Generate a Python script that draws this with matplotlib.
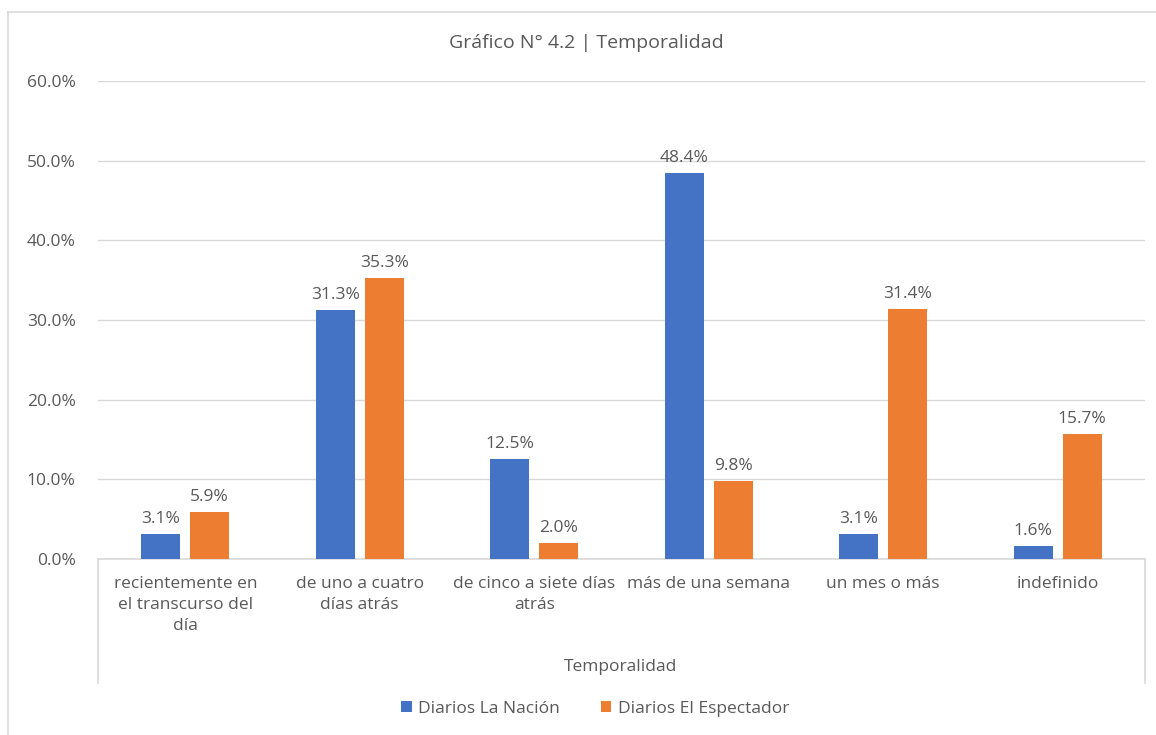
import matplotlib
matplotlib.use("Agg")
import matplotlib.pyplot as plt
from matplotlib.lines import Line2D
import numpy as np

# datos del gráfico
categorias = ["recientemente en\nel transcurso del\ndía",
              "de uno a cuatro\ndías atrás",
              "de cinco a siete días\natrás",
              "más de una semana",
              "un mes o más",
              "indefinido"]
la_nacion = [3.1, 31.3, 12.5, 48.4, 3.1, 1.6]
el_espectador = [5.9, 35.3, 2.0, 9.8, 31.4, 15.7]
series = ["Diarios La Nación", "Diarios El Espectador"]

azul = "#4472C4"
naranja = "#ED7D31"
gris_texto = "#595959"
gris_linea = "#D9D9D9"
tam = 12.5

plt.rcParams['font.family'] = ['Open Sans', 'DejaVu Sans']

W, H = 1156, 735
fig = plt.figure(figsize=(W / 100, H / 100), dpi=100)

# marco exterior (solo lados izquierdo y superior visibles)
fig.add_artist(Line2D([8 / W, 8 / W], [0, 1 - 12 / H], color=gris_linea, lw=1.2,
                      transform=fig.transFigure))
fig.add_artist(Line2D([8 / W, 1], [1 - 12 / H, 1 - 12 / H], color=gris_linea, lw=1.2,
                      transform=fig.transFigure))

x0, x1, y0, y1 = 98, 1145, 559, 81
ax = fig.add_axes([x0 / W, 1 - y0 / H, (x1 - x0) / W, (y0 - y1) / H])

x = np.arange(len(categorias))
ancho = 0.224
desp = 0.14
b1 = ax.bar(x - desp, la_nacion, ancho, color=azul, label=series[0], zorder=3)
b2 = ax.bar(x + desp, el_espectador, ancho, color=naranja, label=series[1], zorder=3)

for barras in (b1, b2):
    for b in barras:
        ax.annotate(f"{b.get_height():.1f}%", (b.get_x() + b.get_width() / 2, b.get_height()),
                    xytext=(0, 5), textcoords="offset points", ha="center", va="bottom",
                    fontsize=tam, color=gris_texto)

ax.set_xlim(-0.5, len(categorias) - 0.5)
ax.set_ylim(0, 60)
ax.set_yticks(np.arange(0, 61, 10))
ax.set_yticklabels([f"{v:.1f}%" for v in np.arange(0, 61, 10)])
ax.yaxis.grid(True, color=gris_linea, lw=1)
ax.set_axisbelow(True)
for s in ["top", "right", "left"]:
    ax.spines[s].set_visible(False)
ax.spines["bottom"].set_color(gris_linea)
ax.spines["bottom"].set_linewidth(1.2)
ax.tick_params(axis="y", length=0, pad=16, labelsize=tam, labelcolor=gris_texto)
ax.tick_params(axis="x", length=0, pad=12, labelsize=tam, labelcolor=gris_texto)
ax.set_xticks(x)
ax.set_xticklabels(categorias, linespacing=1.42)

# líneas laterales del eje de categorías
fondo = -(683 - 559) / (559 - 81)
for xa in (0, 1):
    ax.plot([xa, xa], [0, fondo], transform=ax.transAxes, color=gris_linea,
            lw=1.2, clip_on=False)

fig.text(621 / W, 1 - 667 / H, "Temporalidad", ha="center", va="center",
         fontsize=tam, color=gris_texto)
fig.text(586 / W, 1 - 43 / H, "Gráfico N° 4.2 | Temporalidad", ha="center", va="center",
         fontsize=14, color=gris_texto)

fig.legend(handles=[b1, b2], labels=series, loc="center", ncol=2,
           bbox_to_anchor=(595 / W, 1 - 709 / H), frameon=False, fontsize=tam,
           labelcolor=gris_texto, handlelength=0.6, handleheight=0.6,
           handletextpad=0.35, columnspacing=2.4)

fig.savefig("out.png", dpi=100, facecolor="white")
